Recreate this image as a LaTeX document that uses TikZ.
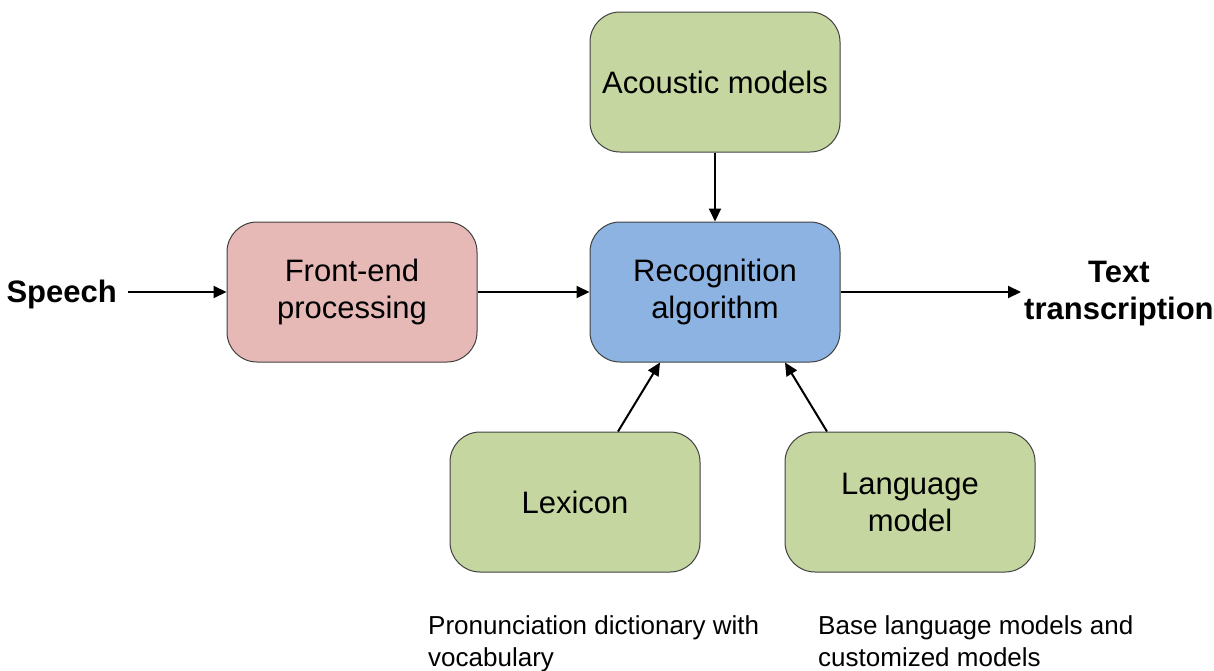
\documentclass[tikz,border=0pt]{standalone}
\usepackage{fontspec}
\setmainfont{Liberation Sans}
\usetikzlibrary{arrows.meta,calc}
\definecolor{gfill}{HTML}{C5D6A0}
\definecolor{rfill}{HTML}{E6B9B7}
\definecolor{bfill}{HTML}{8DB3E2}
\definecolor{edge}{HTML}{404040}
\tikzset{
  box/.style={draw=edge, line width=1pt, rounded corners=30pt, minimum width=250pt, minimum height=140pt,
    align=center, font=\fontsize{31}{37}\selectfont, inner sep=0pt},
  lbl/.style={inner sep=0pt, align=center, font=\fontsize{31}{37}\selectfont\bfseries},
  note/.style={inner sep=0pt, align=left, anchor=north west, font=\fontsize{26}{32}\selectfont},
  arr/.style={line width=2pt, -{Triangle[length=13pt,width=12pt]}}
}
\begin{document}
\begin{tikzpicture}[x=1pt,y=-1pt]
\useasboundingbox (0,0) rectangle (1214,670);
\node[box, fill=gfill] (ac) at (715,82) {Acoustic models};
\node[box, fill=rfill] (fe) at (352,292) {Front-end\\processing};
\node[box, fill=bfill] (rec) at (715,292) {Recognition\\algorithm};
\node[box, fill=gfill] (lex) at (575,502) {Lexicon};
\node[box, fill=gfill] (lm) at (910,502) {Language\\model};
\node[lbl, anchor=east] (sp) at (117,294) {Speech};
\node[lbl, anchor=west] (tt) at (1024,294) {Text\\transcription};
\node[note] (n1) at (428,615) {Pronunciation dictionary with\\vocabulary};
\node[note] (n2) at (818,615) {Base language models and\\customized models};
\draw[arr, shorten <=11pt] (sp.east |- fe.west) -- (fe.west);
\draw[arr] (fe.east) -- (rec.west);
\draw[arr, shorten >=3pt] (rec.east) -- (rec.east -| tt.west);
\draw[arr] (ac.south) -- (rec.north);
\draw[arr] ([xshift=43pt]lex.north) -- ([xshift=-55pt]rec.south);
\draw[arr] ([xshift=-83pt]lm.north) -- ([xshift=70pt]rec.south);
\end{tikzpicture}
\end{document}
